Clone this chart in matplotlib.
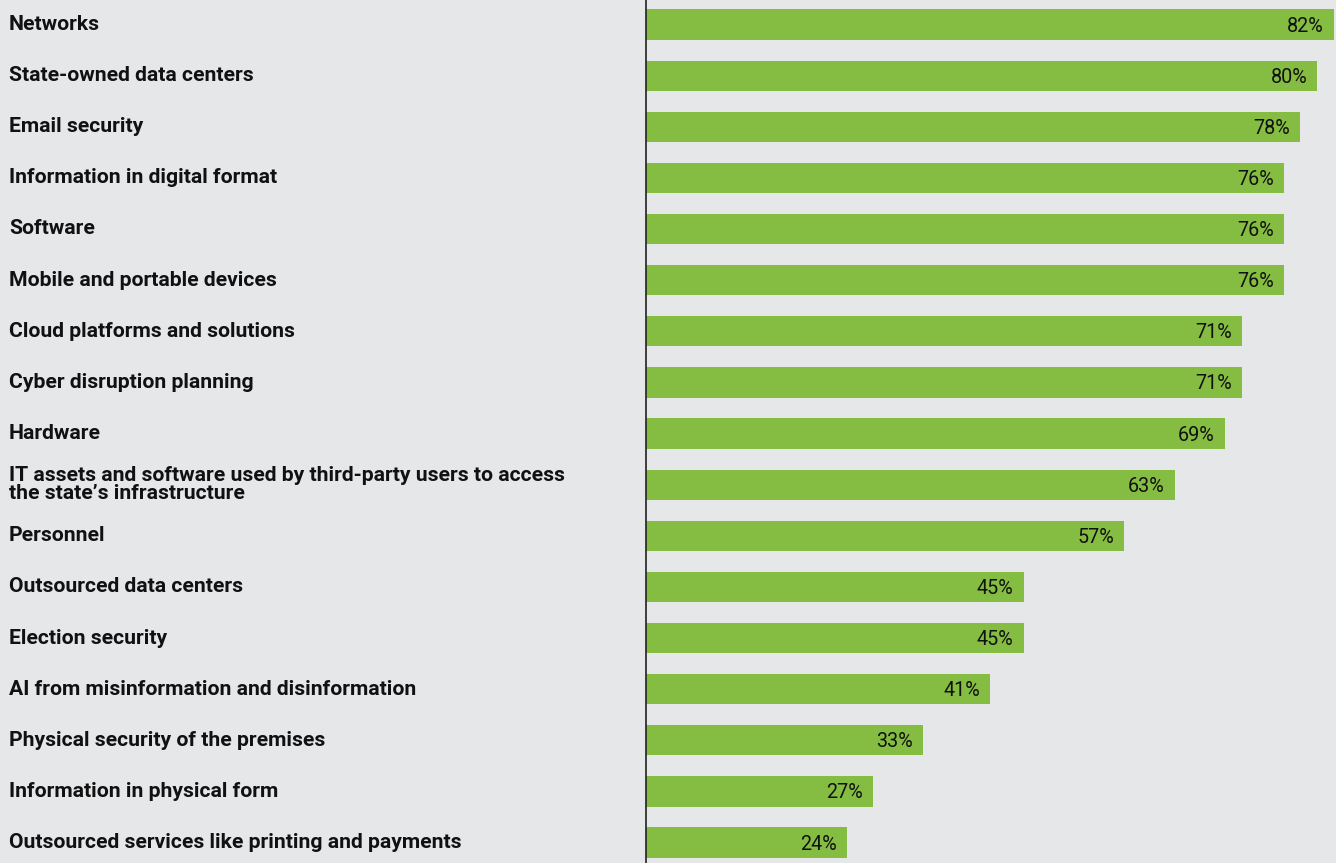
import matplotlib.pyplot as plt

categories = [
    "Networks",
    "State-owned data centers",
    "Email security",
    "Information in digital format",
    "Software",
    "Mobile and portable devices",
    "Cloud platforms and solutions",
    "Cyber disruption planning",
    "Hardware",
    "IT assets and software used by third-party users to access\nthe state\u2019s infrastructure",
    "Personnel",
    "Outsourced data centers",
    "Election security",
    "AI from misinformation and disinformation",
    "Physical security of the premises",
    "Information in physical form",
    "Outsourced services like printing and payments",
]
values = [82, 80, 78, 76, 76, 76, 71, 71, 69, 63, 57, 45, 45, 41, 33, 27, 24]

bg = "#e6e7e9"
green = "#84bd41"
font = "Roboto"

fig = plt.figure(figsize=(13.36, 8.63), dpi=100, facecolor=bg)
ax = fig.add_axes([646 / 1336, 0, 1 - 646 / 1336, 1])
ax.set_facecolor(bg)

y = list(range(len(categories)))
ax.barh(y, values, height=0.59, color=green, left=0)
ax.set_xlim(0, 690 / 8.39)
ax.set_ylim(16.4, -0.48)

# value labels inside bar ends
for i, v in enumerate(values):
    ax.text(v - 1.2, i + 0.03, "%d%%" % v, ha="right", va="center",
            fontsize=14.2, family=font, color="#111111")

# category labels on the left, in figure coords
for i, c in enumerate(categories):
    ypix = 24.5 + i * 51.125
    fig.text(9 / 1336, 1 - ypix / 863, c, ha="left", va="center",
             fontsize=15.2, fontweight="bold", family=font, color="#111111",
             linespacing=0.92)

for s in ["top", "right", "bottom"]:
    ax.spines[s].set_visible(False)
ax.spines["left"].set_color("#222222")
ax.spines["left"].set_linewidth(1.2)
ax.set_xticks([])
ax.set_yticks([])

fig.savefig("out.png", dpi=100, facecolor=bg)
